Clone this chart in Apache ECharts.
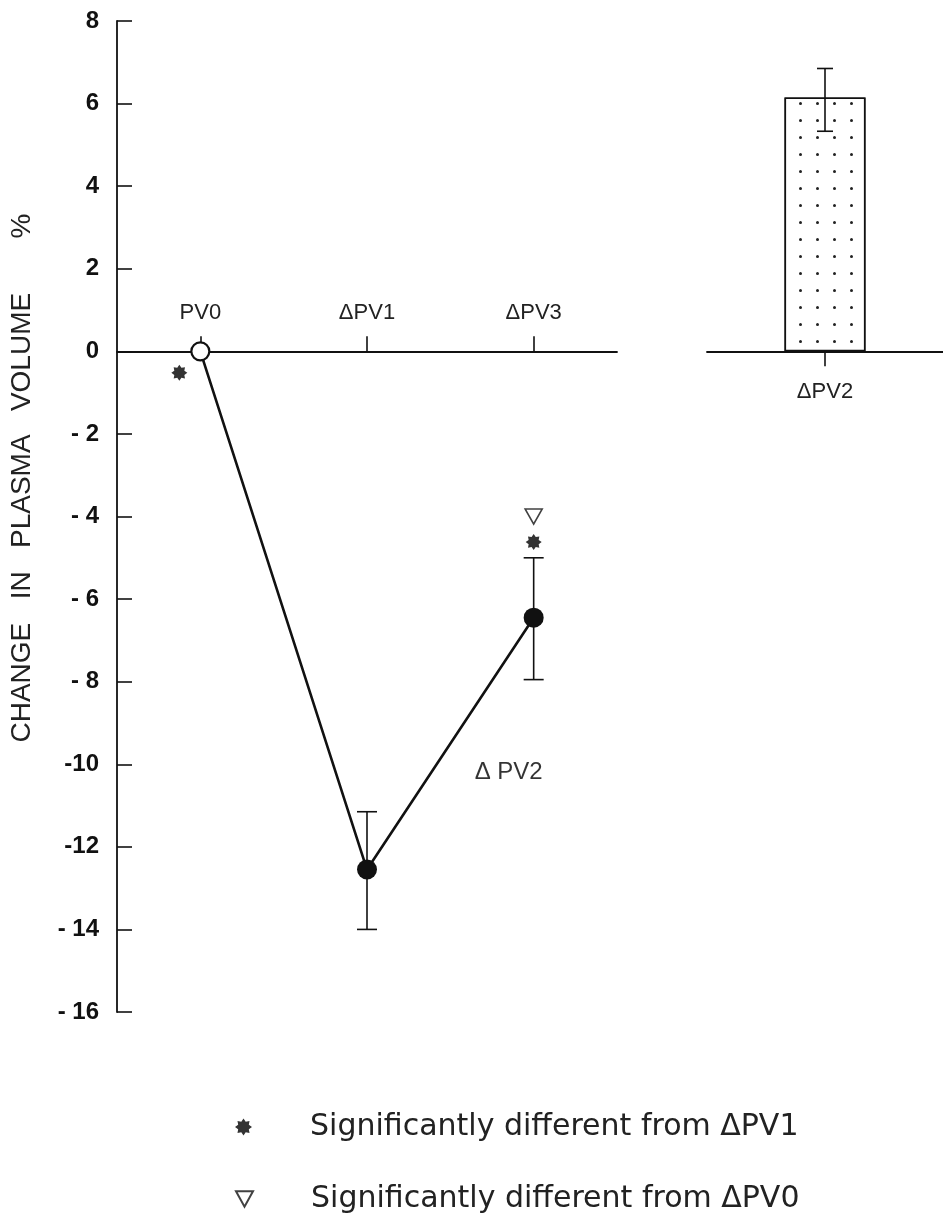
<!DOCTYPE html>
<html>
<head>
<meta charset="utf-8">
<script src="https://cdn.jsdelivr.net/npm/echarts@6/dist/echarts.min.js"></script>
<style>
html, body { margin: 0; padding: 0; background: #fff; }
#chart { width: 943px; height: 1217px; }
</style>
</head>
<body>
<div id="chart"></div>
<script>
// values
const categories = ['PV0', 'ΔPV1', 'ΔPV3']
const meanChange = [0, -12.55, -6.45]
const errLow = [null, -14.0, -7.95]
const errHigh = [null, -11.15, -5.0]

const barCategory = ['ΔPV2']
const barValue = [6.15]
const barErrLow = [5.33]
const barErrHigh = [6.85]

const starPoints = [['PV0', -0.52], ['ΔPV3', -4.62]]
const trianglePoints = [['ΔPV3', -4.0]]
const notePoints = [['ΔPV3', -10.2]]

const yTickLabels = ['- 16', '- 14', '-12', '-10', '- 8', '- 6', '- 4', '- 2', '0', '2', '4', '6', '8']
const yMin = -16
const yMax = 8
const yStep = 2

const starName = 'Significantly different from ΔPV1'
const triName = 'Significantly different from ΔPV0'

const chart = echarts.init(document.getElementById('chart'))

// the x axes sit on y = 0, placed by offset from the grid edge
const gridTop = 21
const gridBottom = 205
const plotH = 1217 - gridTop - gridBottom
const zeroFromTop = plotH * yMax / (yMax - yMin)

// 8 pointed star marker
function starPath(n, inner) {
  let d = ''
  for (let i = 0; i < 2 * n; i++) {
    const r = i % 2 ? inner : 1
    const a = Math.PI * i / n - Math.PI / 2
    d += (i ? 'L' : 'M') + (10 + 10 * r * Math.cos(a)).toFixed(2) + ' ' + (10 + 10 * r * Math.sin(a)).toFixed(2)
  }
  return 'path://' + d + 'Z'
}
const starSymbol = starPath(8, 0.68)
const triSymbol = 'path://M0 0L20 0L10 18Z'

function errorBar(capHalf) {
  return function (params, api) {
    const x = api.value(0)
    const lo = api.coord([x, api.value(1)])
    const hi = api.coord([x, api.value(2)])
    const style = { stroke: '#111', lineWidth: 1.6 }
    return {
      type: 'group',
      children: [
        { type: 'line', shape: { x1: lo[0], y1: lo[1], x2: hi[0], y2: hi[1] }, style },
        { type: 'line', shape: { x1: lo[0] - capHalf, y1: lo[1], x2: lo[0] + capHalf, y2: lo[1] }, style },
        { type: 'line', shape: { x1: hi[0] - capHalf, y1: hi[1], x2: hi[0] + capHalf, y2: hi[1] }, style }
      ]
    }
  }
}

const axisLineStyle = { color: '#111', width: 1.8 }
const tickStyle = { color: '#111', width: 1.6 }

const legendBase = {
  orient: 'vertical',
  left: 235,
  padding: 0,
  itemWidth: 17,
  itemHeight: 17,
  selectedMode: false,
  textStyle: { fontFamily: 'DejaVu Sans', fontSize: 30, color: '#222', padding: [0, 0, 0, 53] }
}

const option = {
  backgroundColor: '#fff',
  animation: false,
  grid: [
    { left: 117, top: gridTop, width: 500, bottom: gridBottom },
    { left: 707, top: gridTop, right: 0, bottom: gridBottom }
  ],
  xAxis: [
    {
      type: 'category',
      gridIndex: 0,
      position: 'top',
      offset: -zeroFromTop,
      data: categories,
      axisLine: { onZero: false, lineStyle: axisLineStyle },
      axisTick: { show: true, length: 15, alignWithLabel: true, lineStyle: tickStyle },
      axisLabel: { margin: 27, fontFamily: 'Liberation Sans', fontSize: 22, color: '#222' },
      splitLine: { show: false }
    },
    {
      type: 'category',
      gridIndex: 1,
      position: 'bottom',
      offset: -(plotH - zeroFromTop),
      data: barCategory,
      axisLine: { onZero: false, lineStyle: axisLineStyle },
      axisTick: { show: true, length: 15, alignWithLabel: true, lineStyle: tickStyle },
      axisLabel: { margin: 30, fontFamily: 'Liberation Sans', fontSize: 22, color: '#222' },
      splitLine: { show: false }
    }
  ],
  yAxis: [
    {
      type: 'value',
      gridIndex: 0,
      min: yMin,
      max: yMax,
      interval: yStep,
      axisLine: { show: true, onZero: false, lineStyle: axisLineStyle },
      axisTick: { show: true, inside: true, length: 15, lineStyle: tickStyle },
      axisLabel: {
        margin: 18,
        fontFamily: 'Liberation Sans',
        fontWeight: 'bold',
        fontSize: 24,
        color: '#111',
        formatter: v => yTickLabels[Math.round((v - yMin) / yStep)]
      },
      splitLine: { show: false }
    },
    { type: 'value', gridIndex: 1, min: yMin, max: yMax, show: false }
  ],
  graphic: [
    {
      type: 'text',
      x: 22,
      y: 478,
      rotation: Math.PI / 2,
      style: {
        text: 'CHANGE   IN   PLASMA   VOLUME       %',
        font: '28px "Liberation Sans"',
        fill: '#222',
        align: 'center',
        verticalAlign: 'middle'
      }
    }
  ],
  legend: [
    Object.assign({}, legendBase, { top: 1112, data: [starName] }),
    Object.assign({}, legendBase, { top: 1184, data: [triName] })
  ],
  series: [
    {
      type: 'custom',
      xAxisIndex: 0,
      yAxisIndex: 0,
      renderItem: errorBar(10),
      encode: { x: 0, y: [1, 2] },
      data: categories.map((c, i) => [i, errLow[i], errHigh[i]]).filter(d => d[1] !== null),
      z: 2
    },
    {
      type: 'line',
      xAxisIndex: 0,
      yAxisIndex: 0,
      symbol: 'circle',
      symbolSize: 20,
      lineStyle: { color: '#111', width: 2.6 },
      itemStyle: { color: '#111' },
      data: meanChange.map((v, i) => i === 0
        ? { value: v, symbolSize: 18, itemStyle: { color: '#fff', borderColor: '#111', borderWidth: 2.2 } }
        : v),
      z: 3
    },
    {
      name: starName,
      type: 'scatter',
      xAxisIndex: 0,
      yAxisIndex: 0,
      symbol: starSymbol,
      symbolSize: 16,
      itemStyle: { color: '#000' },
      data: starPoints.map((p, i) => i === 0 ? { value: p, symbolOffset: [-21, 0] } : p),
      z: 4
    },
    {
      name: triName,
      type: 'scatter',
      xAxisIndex: 0,
      yAxisIndex: 0,
      symbol: triSymbol,
      symbolSize: [17, 15],
      itemStyle: { color: '#fff', borderColor: '#111', borderWidth: 1.6 },
      data: trianglePoints,
      z: 4
    },
    {
      type: 'scatter',
      xAxisIndex: 0,
      yAxisIndex: 0,
      symbolSize: 0,
      silent: true,
      label: {
        show: true,
        position: 'inside',
        offset: [-25, 0],
        formatter: 'Δ PV2',
        fontFamily: 'Liberation Sans',
        fontSize: 24,
        color: '#000'
      },
      data: notePoints
    },
    {
      type: 'bar',
      xAxisIndex: 1,
      yAxisIndex: 1,
      barWidth: 81,
      data: barValue,
      itemStyle: {
        color: '#fff',
        borderColor: '#111',
        borderWidth: 1.6,
        decal: {
          symbol: 'circle',
          symbolSize: 1,
          color: '#222',
          backgroundColor: '#fff',
          dashArrayX: [[3, 14]],
          dashArrayY: [3, 14],
          rotation: 0
        }
      },
      z: 2
    },
    {
      type: 'custom',
      xAxisIndex: 1,
      yAxisIndex: 1,
      renderItem: errorBar(8),
      encode: { x: 0, y: [1, 2] },
      data: barCategory.map((c, i) => [i, barErrLow[i], barErrHigh[i]]),
      z: 3
    }
  ]
}

chart.setOption(option)
</script>
</body>
</html>
